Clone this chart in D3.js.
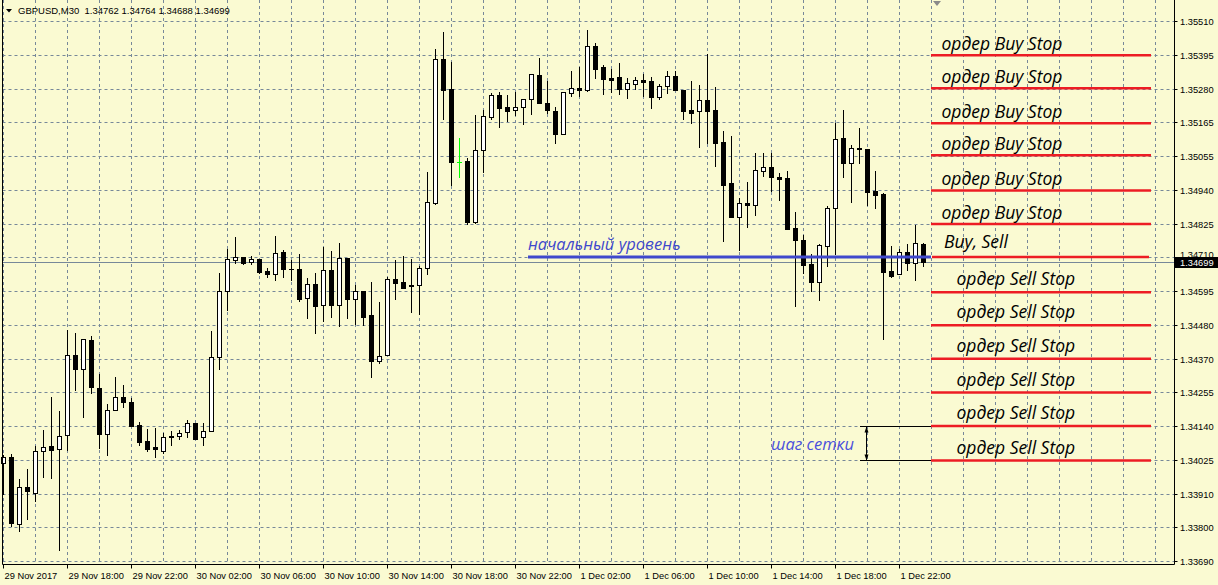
<!DOCTYPE html>
<html><head><meta charset="utf-8">
<script src="https://cdn.jsdelivr.net/npm/d3@7"></script>
<style>html,body{margin:0;padding:0;background:#FAFAD2;} svg{display:block}</style>
</head><body>
<svg id="c" width="1218" height="585"></svg>
<script>
// ---------- DATA ----------
const symbol = "GBPUSD,M30";
const opens = [1.34022,1.34043,1.33817,1.33942,1.33923,1.34063,1.34081,1.34070,1.34117,1.34387,
1.34339,1.34438,1.34275,1.34120,1.34202,1.34245,1.34228,1.34150,1.34097,1.34075,
1.34063,1.34112,1.34113,1.34127,1.34157,1.34110,1.34131,1.34380,1.34602,1.34706,
1.34716,1.34700,1.34711,1.34670,1.34659,1.34733,1.34676,1.34676,1.34578,1.34625,
1.34555,1.34673,1.34555,1.34713,1.34577,1.34603,1.34521,1.34365,1.34385,1.34642,
1.34633,1.34622,1.34622,1.34679,1.34900,1.35383,1.35282,1.35036,1.35040,1.34836,
1.35077,1.35190,1.35262,1.35222,1.35212,1.35222,1.35249,1.35329,1.35235,1.35209,
1.35133,1.35269,1.35286,1.35281,1.35427,1.35356,1.35319,1.35323,1.35282,1.35299,
1.35313,1.35309,1.35255,1.35292,1.35326,1.35280,1.35213,1.35208,1.35245,1.35213,
1.35105,1.34967,1.34851,1.34898,1.34892,1.35006,1.35020,1.34987,1.34983,1.34815,
1.34774,1.34694,1.34634,1.34755,1.34881,1.35118,1.35035,1.35084,1.35081,1.34940,
1.34930,1.34670,1.34658,1.34733,1.34698,1.34762];
const highs = [1.34050,1.34053,1.33969,1.34003,1.34081,1.34135,1.34245,1.34199,1.34471,1.34460,
1.34440,1.34451,1.34323,1.34222,1.34313,1.34285,1.34241,1.34162,1.34138,1.34142,
1.34124,1.34130,1.34134,1.34168,1.34159,1.34157,1.34467,1.34662,1.34745,1.34785,
1.34716,1.34721,1.34711,1.34679,1.34788,1.34739,1.34707,1.34728,1.34646,1.34662,
1.34750,1.34737,1.34764,1.34713,1.34622,1.34603,1.34633,1.34566,1.34651,1.34707,
1.34721,1.34711,1.34687,1.35004,1.35417,1.35475,1.35374,1.35118,1.35050,1.35195,
1.35213,1.35269,1.35273,1.35263,1.35273,1.35249,1.35333,1.35388,1.35311,1.35222,
1.35272,1.35344,1.35357,1.35482,1.35438,1.35363,1.35350,1.35370,1.35319,1.35323,
1.35334,1.35323,1.35299,1.35345,1.35344,1.35280,1.35310,1.35297,1.35401,1.35289,
1.35142,1.35125,1.34915,1.34969,1.35068,1.35068,1.35068,1.35000,1.35007,1.34869,
1.34792,1.34728,1.34761,1.34889,1.35170,1.35213,1.35094,1.35152,1.35081,1.35007,
1.34932,1.34754,1.34743,1.34761,1.34825,1.34764];
const lows = [1.33919,1.33809,1.33795,1.33835,1.33895,1.33974,1.33971,1.33728,1.34068,1.34269,
1.34179,1.34258,1.34072,1.34051,1.34202,1.34210,1.34146,1.34082,1.34062,1.34043,
1.34058,1.34085,1.34105,1.34110,1.34105,1.34085,1.34131,1.34339,1.34539,1.34698,
1.34693,1.34693,1.34662,1.34651,1.34638,1.34649,1.34640,1.34570,1.34510,1.34462,
1.34502,1.34516,1.34485,1.34510,1.34492,1.34487,1.34314,1.34361,1.34385,1.34576,
1.34614,1.34530,1.34524,1.34659,1.34897,1.35182,1.34958,1.34985,1.34829,1.34831,
1.35003,1.35183,1.35156,1.35177,1.35197,1.35166,1.35200,1.35237,1.35203,1.35102,
1.35133,1.35260,1.35260,1.35277,1.35321,1.35267,1.35274,1.35267,1.35254,1.35283,
1.35261,1.35220,1.35251,1.35271,1.35281,1.35182,1.35170,1.35089,1.35102,1.35022,
1.34772,1.34851,1.34741,1.34819,1.34859,1.34991,1.34941,1.34910,1.34813,1.34553,
1.34662,1.34603,1.34573,1.34688,1.34728,1.34985,1.34904,1.35033,1.34893,1.34883,
1.34442,1.34648,1.34658,1.34674,1.34640,1.34688];
const closes = [1.34043,1.33820,1.33942,1.33927,1.34062,1.34078,1.34068,1.34113,1.34386,1.34338,
1.34440,1.34278,1.34120,1.34202,1.34245,1.34228,1.34146,1.34093,1.34070,1.34070,
1.34110,1.34114,1.34124,1.34157,1.34105,1.34130,1.34380,1.34603,1.34710,1.34716,
1.34698,1.34711,1.34668,1.34659,1.34730,1.34675,1.34675,1.34576,1.34625,1.34553,
1.34673,1.34555,1.34713,1.34577,1.34602,1.34516,1.34365,1.34383,1.34642,1.34631,
1.34614,1.34620,1.34679,1.34903,1.35383,1.35281,1.35038,1.35036,1.34836,1.35077,
1.35191,1.35262,1.35220,1.35210,1.35222,1.35249,1.35333,1.35237,1.35214,1.35133,
1.35272,1.35286,1.35281,1.35427,1.35352,1.35318,1.35315,1.35284,1.35303,1.35313,
1.35308,1.35255,1.35292,1.35326,1.35281,1.35210,1.35203,1.35245,1.35209,1.35102,
1.34958,1.34852,1.34898,1.34892,1.35009,1.35020,1.34985,1.34979,1.34813,1.34774,
1.34691,1.34634,1.34758,1.34882,1.35114,1.35035,1.35084,1.35082,1.34937,1.34927,
1.34665,1.34654,1.34733,1.34698,1.34764,1.34699];
const timeTickLabels = ["29 Nov 2017","29 Nov 18:00","29 Nov 22:00","30 Nov 02:00","30 Nov 06:00",
"30 Nov 10:00","30 Nov 14:00","30 Nov 18:00","30 Nov 22:00","1 Dec 02:00","1 Dec 06:00",
"1 Dec 10:00","1 Dec 14:00","1 Dec 18:00","1 Dec 22:00"];
const priceTickLabels = ["1.35510","1.35395","1.35280","1.35165","1.35055","1.34940","1.34825",
"1.34710","1.34595","1.34480","1.34370","1.34255","1.34140","1.34025","1.33910","1.33800","1.33690"];
const bidPrice = 1.34699;
const buyStopLevels = [1.35397,1.35286,1.35168,1.35060,1.34941,1.34828];
const baseLevel = 1.34717;
const sellStopLevels = [1.34598,1.34487,1.34374,1.34260,1.34147,1.34031];
const buyLabel = "ордер Buy Stop";
const sellLabel = "ордер Sell Stop";
const baseLabel = "Buy, Sell";
const startLabel = "начальный уровень";
const stepLabel = "шаг сетки";

// ---------- LAYOUT ----------
const W = 1218, H = 585;
const plotL = 2.5, plotR = 1174.5, plotB = 564.5;
const BARS_PER_TICK = 8, BARS_PER_GRID = 4;
const bg = "#FAFAD2", gridC = "#778899";
const svg = d3.select("#c");
svg.append("rect").attr("width", W).attr("height", H).attr("fill", bg);

const x = d3.scaleLinear().domain([0, opens.length - 1]).range([3.5, 3.5 + 8 * (opens.length - 1)]);
const pTop = +priceTickLabels[0], pBot = +priceTickLabels[priceTickLabels.length - 1];
const y = d3.scaleLinear().domain([pBot, pTop]).range([561.7, 21.7]);
const step = (pTop - pBot) / (priceTickLabels.length - 1);
const tickVals = priceTickLabels.map((_, k) => pTop - k * step);
const snap = v => Math.floor(v) + 0.5;

// grid
const g = svg.append("g");
tickVals.forEach(v => {
  g.append("line").attr("x1", plotL).attr("x2", plotR).attr("y1", snap(y(v))).attr("y2", snap(y(v)))
   .attr("stroke", gridC).attr("stroke-dasharray", "3,3");
});
for (let i = 0; x(i) < plotR - 5; i += BARS_PER_GRID) {
  g.append("line").attr("x1", x(i)).attr("x2", x(i)).attr("y1", 0).attr("y2", plotB)
   .attr("stroke", gridC).attr("stroke-dasharray", "3,3");
}
// bid line
svg.append("line").attr("x1", plotL).attr("x2", plotR).attr("y1", snap(y(bidPrice))).attr("y2", snap(y(bidPrice)))
  .attr("stroke", gridC).attr("stroke-width", 1);

// candles
const cg = svg.append("g");
opens.forEach((o, i) => {
  const c = closes[i], h = highs[i], l = lows[i];
  const cx = x(i);
  const doji = o === c;
  const col = doji ? "#00ff00" : "#000";
  const yh = Math.round(y(h)), yl = Math.round(y(l));
  cg.append("line").attr("x1", cx).attr("x2", cx).attr("y1", yh).attr("y2", yl + 1)
    .attr("stroke", col).attr("stroke-width", 1);
  const t = Math.round(y(Math.max(o, c))), b = Math.round(y(Math.min(o, c)));
  if (doji) {
    cg.append("line").attr("x1", cx - 2.5).attr("x2", cx + 2.5).attr("y1", t + 0.5).attr("y2", t + 0.5)
      .attr("stroke", col);
  } else if (c > o) {
    cg.append("rect").attr("x", cx - 2).attr("y", t + 0.5).attr("width", 4).attr("height", Math.max(b - t, 1))
      .attr("fill", "#fff").attr("stroke", "#000").attr("stroke-width", 1);
  } else {
    cg.append("rect").attr("x", cx - 2.5).attr("y", t).attr("width", 5).attr("height", Math.max(b - t + 1, 1))
      .attr("fill", "#000");
  }
});

// borders
svg.append("line").attr("x1", plotL).attr("x2", plotL).attr("y1", 0).attr("y2", plotB).attr("stroke", "#000");
svg.append("line").attr("x1", plotR).attr("x2", plotR).attr("y1", 0).attr("y2", plotB).attr("stroke", "#000");
svg.append("line").attr("x1", plotL).attr("x2", plotR).attr("y1", plotB).attr("y2", plotB).attr("stroke", "#000");

// time axis
const axisFont = "'Liberation Sans', Arial, sans-serif";
timeTickLabels.forEach((lab, k) => {
  const xi = x(k * BARS_PER_TICK);
  svg.append("line").attr("x1", xi).attr("x2", xi).attr("y1", plotB).attr("y2", plotB + 4).attr("stroke", "#000");
  svg.append("text").attr("x", xi + 1).attr("y", 579).attr("font-family", axisFont).attr("font-size", 9.3)
    .attr("fill", "#000").text(lab);
});
// price axis
const by = snap(y(bidPrice));
const boxTop = by - 5.5;
svg.append("defs").append("clipPath").attr("id", "aboveBox")
  .append("rect").attr("x", 1175).attr("y", 0).attr("width", 43).attr("height", boxTop);
tickVals.forEach((v, k) => {
  const yy = snap(y(v));
  svg.append("line").attr("x1", plotR).attr("x2", plotR + 3).attr("y1", yy).attr("y2", yy).attr("stroke", "#000");
  const hidden = Math.abs(yy - by) < 11;
  const t = svg.append("text").attr("x", 1180).attr("y", hidden ? boxTop + 1 : yy + 3.5)
    .attr("font-family", axisFont).attr("font-size", 9.3).attr("fill", "#000").text(priceTickLabels[k]);
  if (hidden) t.attr("clip-path", "url(#aboveBox)");
});
svg.append("rect").attr("x", 1175).attr("y", boxTop).attr("width", 43).attr("height", 11).attr("fill", "#000");
svg.append("text").attr("x", 1180).attr("y", by + 3.5).attr("font-family", axisFont).attr("font-size", 9.3)
  .attr("fill", "#fff").text(bidPrice.toFixed(5));

// header
const last = opens.length - 1;
svg.append("path").attr("d", "M6,9 L12,9 L9,12.5 Z").attr("fill", "#000");
svg.append("text").attr("x", 18).attr("y", 14).attr("font-family", axisFont).attr("font-size", 9.5)
  .attr("fill", "#000").style("white-space", "pre")
  .text(symbol + "  " + [opens[last], highs[last], lows[last], closes[last]].map(v => v.toFixed(5)).join(" "));
// chart shift marker
svg.append("path").attr("d", "M933,1 L941,1 L937,6 Z").attr("fill", "#8a8a8a");

// ---------- annotations ----------
const annFont = "'Open Sans', 'Noto Sans', sans-serif";
const red = "#ED1C24", blue = "#3F48CC";
const lineX1 = 931, lineX2 = 1151;
buyStopLevels.forEach(v => {
  svg.append("line").attr("x1", lineX1).attr("x2", lineX2).attr("y1", y(v)).attr("y2", y(v))
    .attr("stroke", red).attr("stroke-width", 2.5);
  svg.append("text").attr("x", 941.5).attr("y", y(v) - 5.5).attr("font-family", annFont).attr("font-style", "italic")
    .attr("font-size", 17.5).attr("fill", "#000").text(buyLabel);
});
sellStopLevels.forEach(v => {
  svg.append("line").attr("x1", lineX1).attr("x2", lineX2).attr("y1", y(v)).attr("y2", y(v))
    .attr("stroke", red).attr("stroke-width", 2.5);
  svg.append("text").attr("x", 956.5).attr("y", y(v) - 7).attr("font-family", annFont).attr("font-style", "italic")
    .attr("font-size", 17.5).attr("fill", "#000").text(sellLabel);
});
// base level
svg.append("line").attr("x1", 528).attr("x2", lineX1).attr("y1", y(baseLevel)).attr("y2", y(baseLevel))
  .attr("stroke", blue).attr("stroke-width", 3);
svg.append("line").attr("x1", lineX1 + 1).attr("x2", lineX2 - 2).attr("y1", y(baseLevel)).attr("y2", y(baseLevel))
  .attr("stroke", red).attr("stroke-width", 2.5);
svg.append("text").attr("x", 944).attr("y", y(baseLevel) - 8.5).attr("font-family", annFont).attr("font-style", "italic")
  .attr("font-size", 17.5).attr("fill", "#000").text(baseLabel);
svg.append("text").attr("x", 528).attr("y", y(baseLevel) - 6.5).attr("font-family", annFont).attr("font-style", "italic")
  .attr("font-size", 16.5).attr("fill", blue).text(startLabel);

// grid step marker
const sy1 = snap(y(sellStopLevels[4])), sy2 = snap(y(sellStopLevels[5]));
[sy1, sy2].forEach(v => svg.append("line").attr("x1", 860).attr("x2", lineX1).attr("y1", v).attr("y2", v).attr("stroke", "#000"));
svg.append("line").attr("x1", 866.5).attr("x2", 866.5).attr("y1", sy1).attr("y2", sy2).attr("stroke", "#000");
svg.append("path").attr("d", `M866.5,${sy1} L864.5,${sy1 + 6} L868.5,${sy1 + 6} Z`).attr("fill", "#000");
svg.append("path").attr("d", `M866.5,${sy2} L864.5,${sy2 - 6} L868.5,${sy2 - 6} Z`).attr("fill", "#000");
svg.append("text").attr("x", 771).attr("y", 450).attr("font-family", annFont).attr("font-style", "italic")
  .attr("font-size", 16.5).attr("fill", "#4a50dc").text(stepLabel);
</script>
</body></html>
